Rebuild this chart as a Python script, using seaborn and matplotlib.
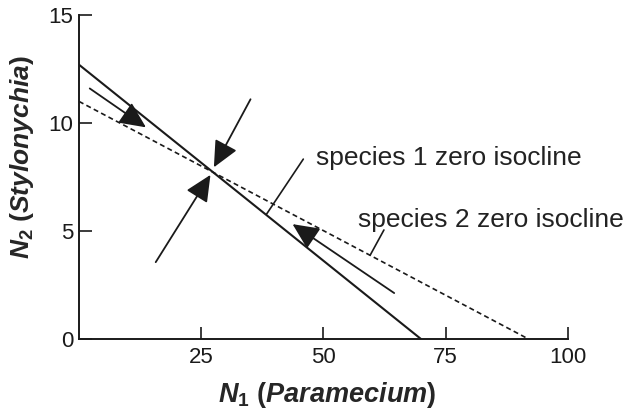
import matplotlib
matplotlib.use("Agg")
import matplotlib.pyplot as plt
import seaborn as sns
import pandas as pd

# isocline end points (N1, N2)
iso1_n1 = [0, 70]
iso1_n2 = [12.7, 0]
iso2_n1 = [0, 92]
iso2_n2 = [11.0, 0]

# trajectory arrows: (start N1, start N2, tip N1, tip N2)
arrow_start_n1 = [2.2, 35.1, 15.7, 64.5]
arrow_start_n2 = [11.6, 11.1, 3.56, 2.13]
arrow_tip_n1 = [13.7, 27.6, 26.9, 43.7]
arrow_tip_n2 = [9.8, 7.95, 7.6, 5.32]

labels = ["species 1 zero isocline", "species 2 zero isocline"]
label_text_xy = [(48.4, 8.4), (57.0, 5.5)]
label_line_from = [(38.4, 5.79), (59.6, 3.89)]
label_line_to = [(45.9, 8.33), (62.4, 5.05)]

xticks = [25, 50, 75, 100]
yticks = [0, 5, 10, 15]

sns.set_style("ticks")
plt.rcParams["font.family"] = ["Liberation Sans", "DejaVu Sans"]
plt.rcParams["mathtext.fontset"] = "custom"
plt.rcParams["mathtext.it"] = "Liberation Sans:bold:italic"
plt.rcParams["mathtext.rm"] = "Liberation Sans:bold"

fig = plt.figure(figsize=(6.33, 4.11), dpi=100)
ax = fig.add_axes([0.1248, 0.175, 0.772, 0.7885])

df1 = pd.DataFrame({"N1": iso1_n1, "N2": iso1_n2})
df2 = pd.DataFrame({"N1": iso2_n1, "N2": iso2_n2})
sns.lineplot(data=df1, x="N1", y="N2", color="#1a1a1a", lw=1.5, ax=ax)
sns.lineplot(data=df2, x="N1", y="N2", color="#1a1a1a", lw=1.2,
             linestyle=(0, (3, 2)), ax=ax)

for sx, sy, tx, ty in zip(arrow_start_n1, arrow_start_n2, arrow_tip_n1, arrow_tip_n2):
    ax.annotate("", xy=(tx, ty), xytext=(sx, sy),
                arrowprops=dict(arrowstyle="-|>,head_length=0.9,head_width=0.42",
                                color="#1a1a1a", lw=1.3, mutation_scale=18,
                                shrinkA=0, shrinkB=0))

for txt, (lx, ly), (ax0, ay0), (ax1, ay1) in zip(labels, label_text_xy,
                                                  label_line_from, label_line_to):
    ax.plot([ax0, ax1], [ay0, ay1], color="#1a1a1a", lw=1.2)
    ax.text(lx, ly, txt, fontsize=19, va="center", ha="left", color="#222222")

ax.set_xlim(0, 100)
ax.set_ylim(0, 15)
ax.set_xticks(xticks)
ax.set_yticks(yticks)
ax.tick_params(direction="in", length=9, width=1.2, labelsize=16,
               colors="#1a1a1a", pad=6)
ax.tick_params(axis="y", pad=4)
sns.despine(ax=ax)
for s in ["left", "bottom"]:
    ax.spines[s].set_linewidth(1.4)
    ax.spines[s].set_color("#1a1a1a")

ax.set_xlabel(r"$\mathit{N}_\mathrm{1}$ ($\mathit{Paramecium}$)",
              fontsize=19.5, fontweight="bold")
ax.set_ylabel(r"$\mathit{N}_\mathrm{2}$ ($\mathit{Stylonychia}$)",
              fontsize=19, fontweight="bold")
ax.xaxis.set_label_coords(0.507, -0.125)
ax.yaxis.set_label_coords(-0.088, 0.56)

fig.savefig("out.png", dpi=100)
